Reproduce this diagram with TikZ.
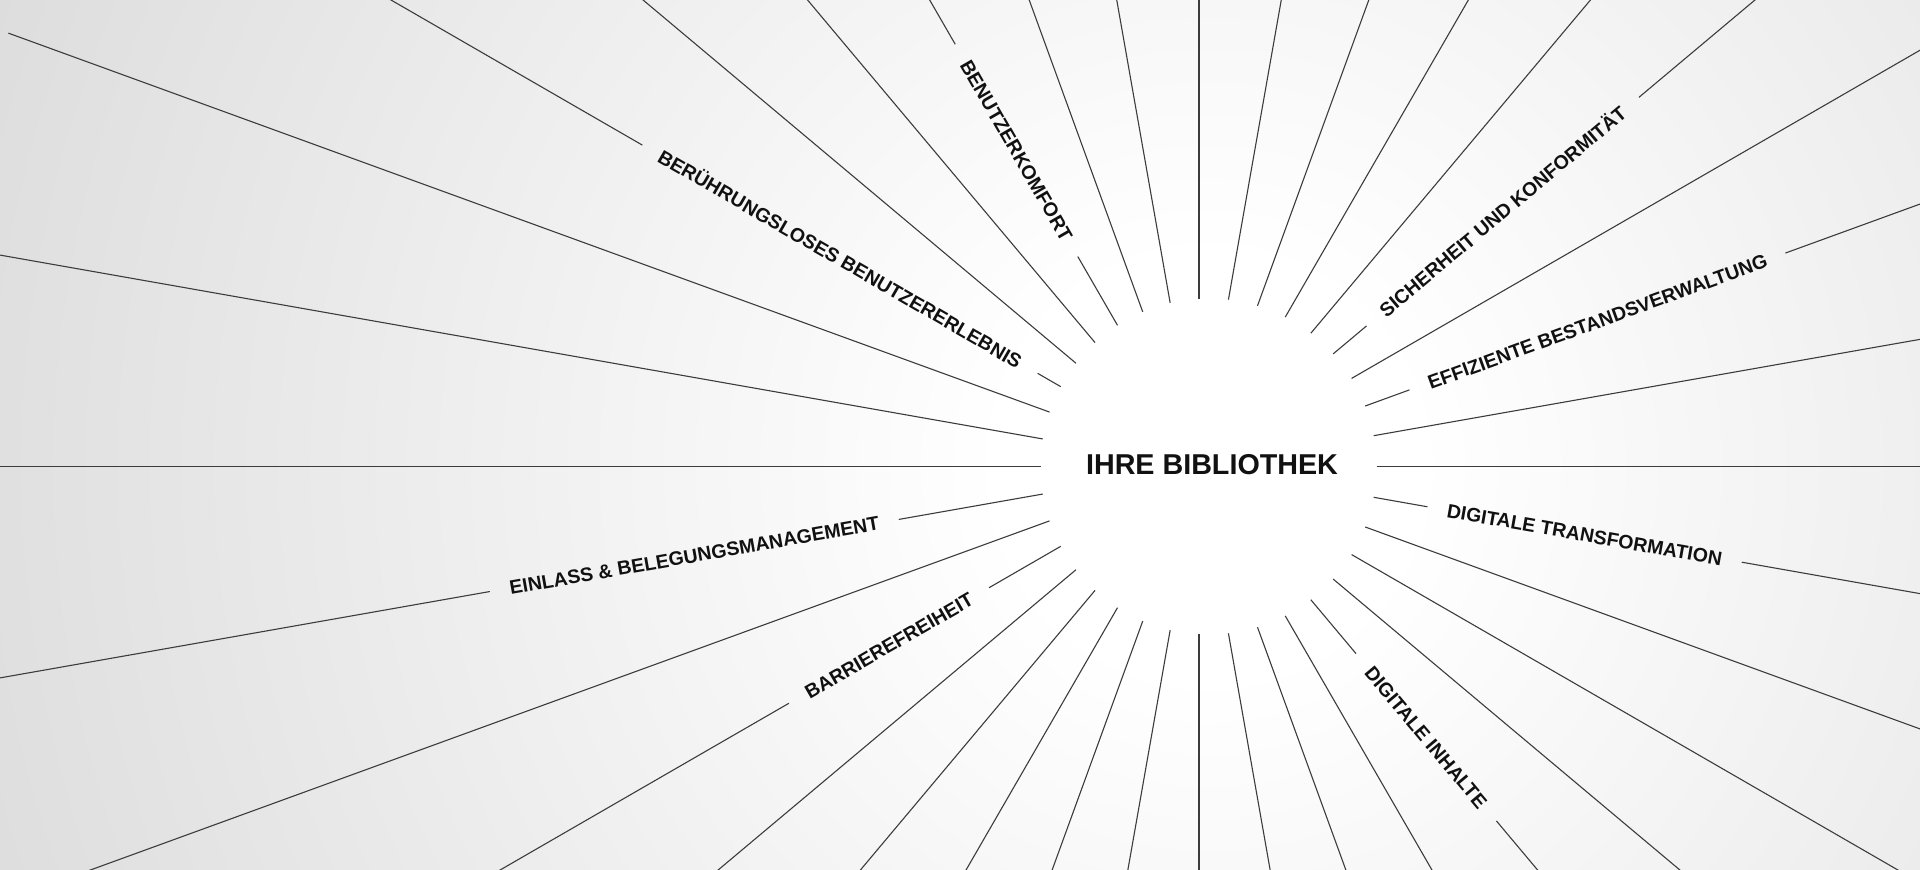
\documentclass[tikz,border=0pt]{standalone}
\usepackage{fontspec}
\setmainfont{Liberation Sans}
\usetikzlibrary{calc}
\definecolor{bgedge}{RGB}{221,221,221}
\definecolor{raycol}{RGB}{60,60,60}
\definecolor{inkcol}{RGB}{17,17,17}
\pgfdeclareradialshading{bgglow}{\pgfpoint{0bp}{0bp}}{color(0bp)=(white); color(4bp)=(white); color(25bp)=(bgedge); color(50bp)=(bgedge)}
\tikzset{
  raystroke/.style={draw=raycol, line width=1.1pt},
  lbl/.style={font=\bfseries\fontsize{19.5}{20}\selectfont, text=inkcol, inner sep=0pt, text height=14pt, text depth=0pt, anchor=center},
  titlelbl/.style={font=\bfseries\fontsize{28.7}{30}\selectfont, text=inkcol, inner sep=0pt, text height=20.5pt, text depth=0pt, anchor=center},
}
\begin{document}
\begin{tikzpicture}[x=1pt,y=1pt]
\useasboundingbox (0,0) rectangle (1920,870);
\clip (0,0) rectangle (1920,870);
\fill[bgedge] (0,0) rectangle (1920,870);
\shade[shading=bgglow] (1208.5,404) circle[radius=1300];
\coordinate (C) at (1199,403.5);
\node[titlelbl] (title) at (1212,406) {IHRE BIBLIOTHEK};
% plain rays
\foreach \a in {0,10,30,50,60,70,80,90,100,110,130,140,160,170,180,200,220,230,240,250,260,270,280,290,300,320,330,340}{
  \pgfmathsetmacro\rin{9.5*cos(\a)+168*sqrt(1-0.0031977*sin(\a)*sin(\a))}
  \draw[raystroke] ($(C)+(\a:\rin)$) -- ($(C)+(\a:1267)$);
}
% labelled rays
\foreach \a/\rc/\rot/\txt/\nm in {
 150/414.5/-30/{BERÜHRUNGSLOSES BENUTZERERLEBNIS}/lbA,
 120/365/-60/{BENUTZERKOMFORT}/lbB,
 40/396.5/40/{SICHERHEIT UND KONFORMITÄT}/lbC,
 20/424/20/{EFFIZIENTE BESTANDSVERWALTUNG}/lbD,
 350/391.5/-10/{DIGITALE TRANSFORMATION}/lbE,
 310/353.5/-50/{DIGITALE INHALTE}/lbF,
 210/358/30/{BARRIEREFREIHEIT}/lbG,
 190/512.5/10/{EINLASS \& BELEGUNGSMANAGEMENT}/lbH}{
  \node[lbl, rotate=\rot] (\nm) at ($(C)+(\a:\rc)$) {\txt};
  \pgfmathsetmacro\rin{9.5*cos(\a)+168*sqrt(1-0.0031977*sin(\a)*sin(\a))}
  \draw[raystroke] let \p1=($(\nm.east)-(\nm.west)$), \n1={veclen(\x1,\y1)/2} in
    ($(C)+(\a:\rin)$) -- ($(C)+(\a:{\rc-\n1-20})$)
    ($(C)+(\a:{\rc+\n1+20})$) -- ($(C)+(\a:1267)$);
}
\end{tikzpicture}
\end{document}
